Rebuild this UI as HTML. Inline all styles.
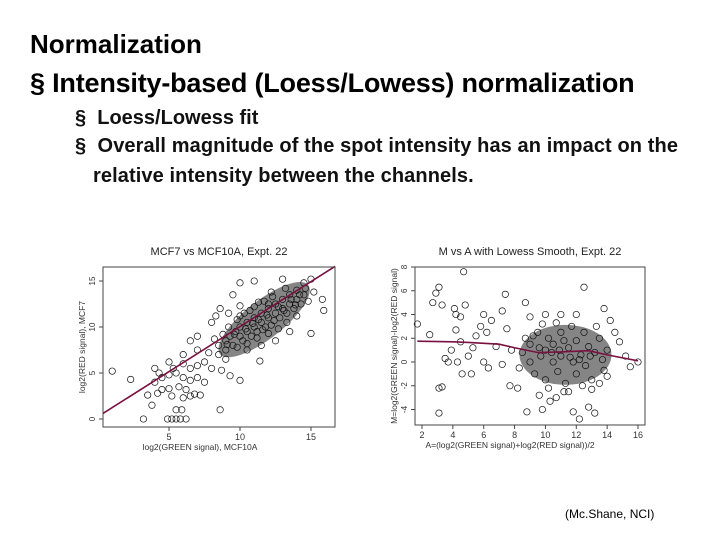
<!DOCTYPE html>
<html><head><meta charset="utf-8"><style>
body{margin:0;background:#fff;}
#slide{position:relative;width:720px;height:540px;overflow:hidden;font-family:"Liberation Sans",sans-serif;color:#000;}
.t{position:absolute;white-space:nowrap;}
</style></head><body>
<div id="slide">
<div class="t" style="left:30px;top:29px;font-size:26px;font-weight:bold;">Normalization</div>
<div class="t" style="left:30px;top:68px;font-size:27px;font-weight:bold;letter-spacing:-0.2px;">§ Intensity-based (Loess/Lowess) normalization</div>
<div class="t" style="left:75px;top:107px;font-size:20px;font-weight:bold;color:#111;">§&nbsp; Loess/Lowess fit</div>
<div class="t" style="left:75px;top:135px;font-size:20px;font-weight:bold;color:#111;letter-spacing:0.1px;">§&nbsp; Overall magnitude of the spot intensity has an impact on the</div>
<div class="t" style="left:93px;top:165px;font-size:20px;font-weight:bold;color:#111;letter-spacing:0.1px;">relative intensity between the channels.</div>
<div class="t" style="left:565px;top:507px;font-size:12px;">(Mc.Shane, NCI)</div>
<svg id="chart" width="720" height="540" style="position:absolute;left:0;top:0"></svg>
</div>
<script>
// Left plot data
const leftX=[1,2.3,3.2,4.9,5.2,5.5,5.8,6.2,5.5,5.9,8.6,3.8,3.5,4.2,5.2,6,6.5,6.8,7.2,4.5,5,5.7,6.2,4,4.5,5,5.5,6,6.5,7,7.5,4.3,5.3,6,6.5,7,7.5,8,8.7,9.3,10,6.5,7,8,8.3,8.6,9.2,9.5,10,10,11,11.4,8.5,9,13,15,15.8,15.9,15,14.5,12.5,13.5,11.5,10.5,12,7.8,7,6,5,4,
9,9.3,9.5,9.7,10,10,10.2,10.5,10.5,10.8,11,11,11.2,11.5,11.5,11.8,12,12,12.2,12.5,12.5,12.8,13,13,13.3,13.5,13.5,13.8,14,14,14.3,14.5,9.2,9.8,10.3,11,11.7,12.3,9,9.8,10.5,11.2,12,12.7,13.3,14,10,10.7,11.3,12.2,13.2,8.8,9.6,10.4,11.3,11.9,12.7,13.6,14.6,14.8,15.2,8.5,8.2,9.1,10.9,11.6,12.4,13.1,13.9,14.2];
const leftY=[5.2,4.3,0,0,0,0,0,0,1,1,1,1.5,2.6,2.8,2.5,2.3,2.5,2.7,2.6,3.2,3.3,3.5,3.2,4,4.5,4.8,5,4.5,4.2,4.5,4,5,5.5,6,5.5,5.8,6.2,5.5,5.3,4.7,4.2,8.5,9,10.5,11.2,12,11.5,13.5,12.3,14.8,15,6.3,7,6.5,15.2,15.2,13,11.8,9.3,14.8,8.5,9.5,8,7.5,12.5,7.2,7.5,7,6.2,5.5,
8.5,9,8,9.5,9,10,8.5,9.5,10.5,9,10,11,9.5,10.5,11.5,10,11,12,10.2,11.5,12.5,11,12,13,11.5,12.5,13.5,12,13,14,12.5,13.5,10,10.8,11.5,12.2,12.8,13.3,7.5,7.8,8.2,8.8,9.3,9.8,10.5,11.2,11.2,11.8,12.7,13.8,14.2,9.2,9.2,9.8,10.8,11.3,12.2,13,14.2,12.8,13.8,8,8.7,8.1,10.4,9.7,10.7,11.8,12.4,13.5];
const leftFitX=[0.35,16.7];
const leftFitY=[0.6,16.6];
const leftXTicks=[5,10,15];
const leftYTicks=[0,5,10,15];
// Right plot data
const rightX=[1.7,2.5,2.7,2.9,3.1,3.3,3.1,3.3,3.1,3.5,4.2,4.5,4.1,4.8,4.7,4.2,4.5,5,4.6,5.2,3.9,3.7,4.3,5.5,5.8,6,6.5,6,6.3,6.8,7.2,7.4,7.5,7.8,7.2,7.7,8.2,8.7,8.8,9,9.6,9.8,10.3,10.7,11.2,11.8,12.2,12.5,12.8,13.2,13,13.8,14.2,14.5,14.8,15.2,15.5,16,14,13.5,12,11,10,5.3,6.2,
9,9,9.3,9.5,9.7,10,10,10.2,10.5,10.5,10.8,11,11,11.3,11.5,11.7,11.8,12,12,12.3,12.5,12.6,12.8,13,13.2,13.5,13.7,14,8.5,8.3,8.7,9.8,10.7,11.5,12.4,13.3,10.2,9.2,11.2,12.2,10.4,11.6,12.9,9.6,10.9,13.8];
const rightY=[3.2,2.3,5,5.8,6.3,4.8,-2.2,-2.1,-4.3,0.3,4,3.8,4.5,4.8,7.6,2.7,1.7,0.5,-1,-1,1,0,0,2.2,3,4,3.5,0,-0.5,1.3,4.3,5.7,2.8,1,-0.2,-2,-2.2,5,-4.2,3.8,-2.8,-4,-3.3,-3,-2.5,-4.2,-4.8,6.3,-3.8,-4.3,-2.3,4.5,3.5,2.5,1.7,0.5,-0.4,0,-1.2,-1.8,4,4,4,1.2,2.5,
0,1.5,-1,2.5,0.5,1,-1.5,2,0,1.5,-0.8,2.5,0.5,-1.8,1.2,3,0,1.8,-1,0.6,2.5,-0.3,1.3,-1.5,0.8,2,0.2,1,0.8,-0.5,2,3.2,3.3,-2.5,-2,3,-2.2,2.2,1.8,0.2,0.8,0.4,0.5,1.2,1,-0.7];
const rightFitX=[1.7,4,5,7,8,9.5,11,12.8,14,16];
const rightFitY=[1.75,1.7,1.65,1.5,1.2,0.8,0.85,0.95,0.6,0.1];
const rightXTicks=[2,4,6,8,10,12,14,16];
const rightYTicks=[-4,-2,0,2,4,6,8];

const NS='http://www.w3.org/2000/svg';
const svg=document.getElementById('chart');
function mk(tag,attrs,parent){const e=document.createElementNS(NS,tag);for(const k in attrs)e.setAttribute(k,attrs[k]);(parent||svg).appendChild(e);return e;}

function plot(o){
  const sx=v=>o.x0+(v-o.dx0)*(o.x1-o.x0)/(o.dx1-o.dx0);
  const sy=v=>o.y0+(v-o.dy0)*(o.y1-o.y0)/(o.dy1-o.dy0);
  const g=mk('g',{});
  
  
  const tt=mk('text',{x:(o.bx0+o.bx1)/2,y:o.by0-12,'text-anchor':'middle','font-size':11,fill:'#222','font-family':'Liberation Sans, sans-serif'},g);
  tt.textContent=o.title;
  
  
  const d=mk('ellipse',{cx:sx(o.cx),cy:sy(o.cy),rx:o.rx,ry:o.ry,fill:'#333',opacity:0.6,transform:`rotate(${o.rot} ${sx(o.cx)} ${sy(o.cy)})`},g);
  
  
  o.xs.forEach((v,i)=>{
    const c=mk('circle',{cx:sx(v),cy:sy(o.ys[i]),r:3.2,fill:'none',stroke:'#111','stroke-width':0.7},g);
    
    
  });
  const pts=o.fx.map((v,i)=>sx(v)+','+sy(o.fy[i])).join(' ');
  const l=mk('polyline',{points:pts,fill:'none',stroke:'#7a1040','stroke-width':1.6},g);
  
  
  const b=mk('rect',{x:o.bx0,y:o.by0,width:o.bx1-o.bx0,height:o.by1-o.by0,fill:'none',stroke:'#444','stroke-width':1},g);
  
  
  o.xt.forEach(v=>{
    mk('line',{x1:sx(v),x2:sx(v),y1:o.by1,y2:o.by1+4,stroke:'#444'},g);
    const t=mk('text',{x:sx(v),y:o.by1+13,'text-anchor':'middle','font-size':9,fill:'#333','font-family':'Liberation Sans, sans-serif'},g);
    t.textContent=v;
    
    
  });
  o.yt.forEach(v=>{
    mk('line',{x1:o.bx0-4,x2:o.bx0,y1:sy(v),y2:sy(v),stroke:'#444'},g);
    const t=mk('text',{x:o.bx0-8,y:sy(v),'text-anchor':'middle','font-size':8,fill:'#333','font-family':'Liberation Sans, sans-serif',transform:`rotate(-90 ${o.bx0-8} ${sy(v)})`},g);
    t.textContent=v;
    
    
  });
  const xl=mk('text',{x:o.xlx,y:o.by1+23,'text-anchor':'middle','font-size':8.5,fill:'#333','font-family':'Liberation Sans, sans-serif'},g);
  xl.textContent=o.xlab;
  
  
  const yx=o.bx0-18, yy=(o.by0+o.by1)/2;
  const yl=mk('text',{x:yx,y:yy,'text-anchor':'middle','font-size':8.5,fill:'#333','font-family':'Liberation Sans, sans-serif',transform:`rotate(-90 ${yx} ${yy})`},g);
  yl.textContent=o.ylab;
  
  
}
plot({name:'mcf7-vs-mcf10a-plot',title:'MCF7 vs MCF10A, Expt. 22',xs:leftX,ys:leftY,fx:leftFitX,fy:leftFitY,xt:leftXTicks,yt:leftYTicks,
  x0:169,x1:240,dx0:5,dx1:10,y0:419,y1:327,dy0:0,dy1:10,bx0:103,bx1:335,by0:267,by1:427,
  cx:11.7,cy:10.8,rx:56,ry:19,rot:-38,xlab:'log2(GREEN signal), MCF10A',xlx:200,ylab:'log2(RED signal), MCF7'});
plot({name:'m-vs-a-lowess-plot',title:'M vs A with Lowess Smooth, Expt. 22',xs:rightX,ys:rightY,fx:rightFitX,fy:rightFitY,xt:rightXTicks,yt:rightYTicks,
  x0:422,x1:638,dx0:2,dx1:16,y0:362,y1:267,dy0:0,dy1:8,bx0:415,bx1:645,by0:267,by1:425,
  cx:11.3,cy:0.6,rx:46,ry:30,rot:0,xlab:'A=(log2(GREEN signal)+log2(RED signal))/2',xlx:510,ylab:'M=log2(GREEN signal)-log2(RED signal)'});
</script>
</body></html>
